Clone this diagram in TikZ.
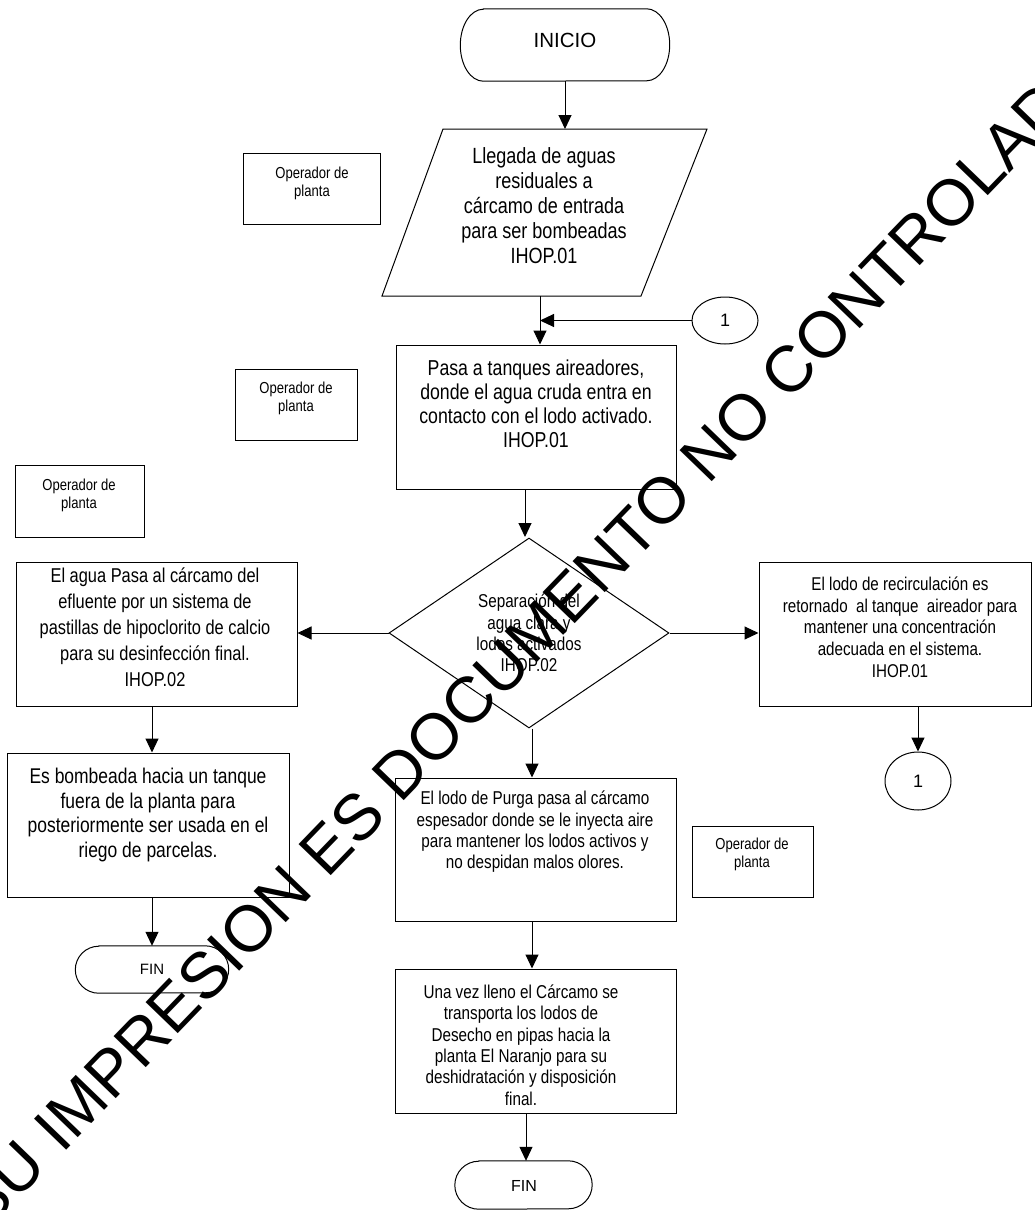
\documentclass[tikz,border=0pt]{standalone}
\usepackage{fontspec}
\setmainfont{Liberation Sans}
\newfontfamily\nar[FakeStretch=0.82]{Liberation Sans}
\usetikzlibrary{arrows.meta,shapes.geometric}
\begin{document}
\begin{tikzpicture}[x=1pt,y=-1pt,
  lw/.style={line width=1pt,draw=black},
  arr/.style={line width=1pt,-{Triangle[length=14pt,width=13pt]}},
  box/.style={draw,line width=1pt,inner sep=0pt,rectangle},
  tbig/.style={font=\nar\fontsize{22}{25}\selectfont,align=center,inner sep=0pt},
  tmid/.style={font=\nar\fontsize{18.6}{21.3}\selectfont,align=center,inner sep=0pt},
  tsml/.style={font=\nar\fontsize{15.9}{18}\selectfont,align=center,inner sep=0pt},
  conn/.style={draw,line width=1pt,ellipse,inner sep=0pt,font=\fontsize{18}{20}\selectfont},
  ghost/.style={inner sep=0pt,rectangle}
]
\useasboundingbox (0,0) rectangle (1034,1210);

% INICIO terminal
\node[ghost,minimum width=209pt,minimum height=72pt] (ini) at (565,45) {};
\draw[lw] ([xshift=23pt]ini.north west) -- ([xshift=-23pt]ini.north east)
  arc[start angle=90,end angle=-90,x radius=23pt,y radius=36pt]
  -- ([xshift=23pt]ini.south west)
  arc[start angle=270,end angle=90,x radius=23pt,y radius=36pt] -- cycle;
\node[font=\fontsize{20.5}{22}\selectfont,inner sep=0pt] (initxt) at (565,40) {INICIO};

% parallelogram
\coordinate (ptl) at (443,129);
\coordinate (ptr) at (707,129);
\coordinate (pbr) at (641,296);
\coordinate (pbl) at (382,296);
\draw[lw] (ptl) -- (ptr) -- (pbr) -- (pbl) -- cycle;
\coordinate (pin) at (565,129);
\coordinate (pout) at (540,296);
\node[tbig] (par) at (544,206) {Llegada de aguas\\residuales a\\cárcamo de entrada\\para ser bombeadas\\IHOP.01};

% boxes
\node[box,minimum width=280pt,minimum height=144pt] (pasa) at (536,417) {};
\node[tbig,font=\nar\fontsize{21.6}{24}\selectfont] (pasatxt) at (536,404) {Pasa a tanques aireadores,\\donde el agua cruda entra en\\contacto con el lodo activado.\\IHOP.01};

\node[draw,diamond,line width=1pt,inner sep=0pt,minimum width=280pt,minimum height=190pt,tmid] (dia) at (529,633) {Separación del\\agua clara y\\lodos activados\\IHOP.02};

\node[box,minimum width=281pt,minimum height=144pt] (lbox) at (156.5,634) {};
\node[tbig,font=\nar\fontsize{20}{26}\selectfont] (lboxtxt) at (155,627) {El agua Pasa al cárcamo del\\efluente por un sistema de\\pastillas de hipoclorito de calcio\\para su desinfección final.\\IHOP.02};

\node[box,minimum width=282pt,minimum height=144pt] (ebox) at (148,825) {};
\node[tbig,font=\nar\fontsize{21.3}{24.5}\selectfont] (eboxtxt) at (148,815) {Es bombeada hacia un tanque\\fuera de la planta para\\posteriormente ser usada en el\\riego de parcelas.};

\node[box,minimum width=272pt,minimum height=144pt] (rbox) at (895,634) {};
\node[tmid,font=\nar\fontsize{18.5}{21.7}\selectfont] (rboxtxt) at (900,627) {El lodo de recirculación es\\retornado\ \ al tanque\ \ aireador para\\mantener una concentración\\adecuada en el sistema.\\IHOP.01};

\node[box,minimum width=281pt,minimum height=143pt] (purga) at (535.5,849.5) {};
\node[tmid] (purgatxt) at (535,832) {El lodo de Purga pasa al cárcamo\\espesador donde se le inyecta aire\\para mantener los lodos activos y\\no despidan malos olores.};

\node[box,minimum width=281pt,minimum height=144pt] (una) at (535.5,1041) {};
\node[tmid] (unatxt) at (521,1045) {Una vez lleno el Cárcamo se\\transporta los lodos de\\Desecho en pipas hacia la\\planta El Naranjo para su\\deshidratación y disposición\\final.};

% operador boxes
\node[box,minimum width=137pt,minimum height=71pt] (opa) at (311.5,188.5) {};
\node[tsml] (opatxt) at (312,183) {Operador de\\planta};
\node[box,minimum width=122pt,minimum height=71pt] (opb) at (296,404.5) {};
\node[tsml] (opbtxt) at (296,398) {Operador de\\planta};
\node[box,minimum width=129pt,minimum height=72pt] (opc) at (79.5,501) {};
\node[tsml] (opctxt) at (79,495) {Operador de\\planta};
\node[box,minimum width=121pt,minimum height=71pt] (opd) at (752.5,861.5) {};
\node[tsml] (opdtxt) at (752,854) {Operador de\\planta};

% connectors "1"
\node[conn,minimum width=66pt,minimum height=47pt] (c1a) at (725,320.5) {1};
\node[conn,minimum width=66pt,minimum height=58pt] (c1b) at (918,781) {1};

% FIN terminals
\node[ghost,minimum width=153pt,minimum height=47pt] (fin1) at (152,969.5) {};
\draw[lw] ([xshift=23.5pt]fin1.north west) -- ([xshift=-23.5pt]fin1.north east)
  arc[start angle=90,end angle=-90,x radius=23.5pt,y radius=23.5pt]
  -- ([xshift=23.5pt]fin1.south west)
  arc[start angle=270,end angle=90,x radius=23.5pt,y radius=23.5pt] -- cycle;
\node[font=\fontsize{15}{16}\selectfont,inner sep=0pt] (fin1txt) at (152,969) {FIN};

\node[ghost,minimum width=137pt,minimum height=48pt] (fin2) at (523.5,1185) {};
\draw[lw] ([xshift=24pt]fin2.north west) -- ([xshift=-24pt]fin2.north east)
  arc[start angle=90,end angle=-90,x radius=24pt,y radius=24pt]
  -- ([xshift=24pt]fin2.south west)
  arc[start angle=270,end angle=90,x radius=24pt,y radius=24pt] -- cycle;
\node[font=\fontsize{16}{17}\selectfont,inner sep=0pt] (fin2txt) at (524,1186) {FIN};

% arrows
\draw[arr] (ini.south -| pin) -- (pin);
\draw[arr] (pout) -- (pout |- pasa.north);
\draw[arr] (c1a.west) -- (c1a.west -| pout);
\draw[arr] ([xshift=-4pt]pasa.south -| dia.north) -- ([xshift=-4pt]dia.north |- 0,537);
\draw[arr] (dia.west) -- (dia.west -| lbox.east);
\draw[arr] (dia.east) -- (dia.east -| rbox.west);
\draw[arr] ([xshift=-4.5pt]lbox.south) -- ([xshift=-4.5pt]lbox.south |- ebox.north);
\draw[arr] (ebox.south -| fin1.north) -- (fin1.north);
\draw[arr] (c1b.north |- rbox.south) -- (c1b.north);
\draw[arr] ([xshift=3pt]dia.south) -- ([xshift=3pt]dia.south |- purga.north);
\draw[arr] ([xshift=-3.5pt]purga.south) -- ([xshift=-3.5pt]una.north);
\draw[arr] (una.south -| 526,0) -- (526,0 |- fin2.north);

% watermark
\begin{scope}
\clip (0,0) rectangle (1034,1210);
\node[font=\fontsize{65}{65}\selectfont,rotate=46,inner sep=0pt] (wm) at (531,637) {SU IMPRESION ES DOCUMENTO NO CONTROLADO};
\end{scope}
\end{tikzpicture}
\end{document}
